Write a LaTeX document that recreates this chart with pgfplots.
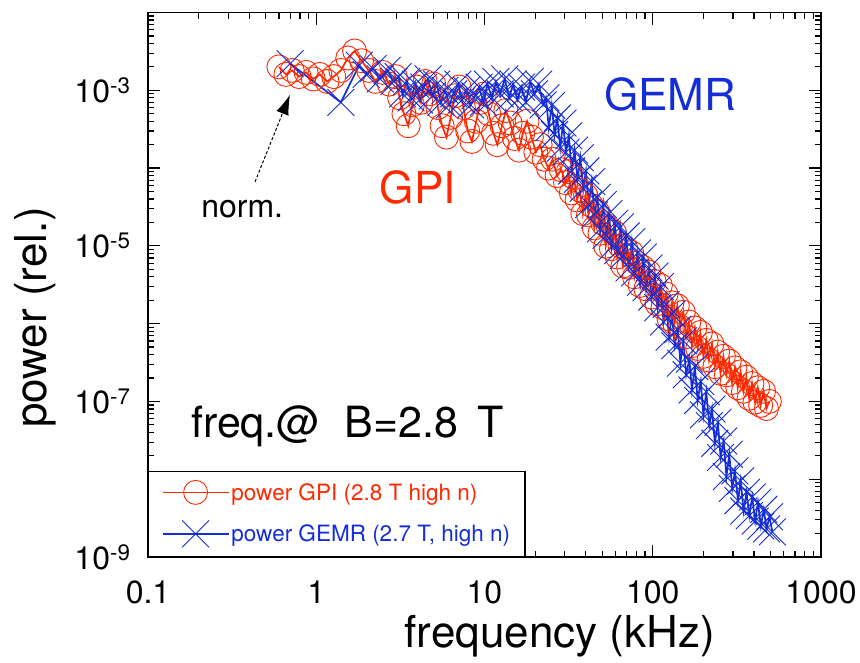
\documentclass[border=0pt]{standalone}
\usepackage{fontspec}
\setmainfont{TeX Gyre Heros}
\usepackage{pgfplots}
\usepackage{pgfplotstable}
\pgfplotsset{compat=1.18}
\usetikzlibrary{arrows.meta}
\definecolor{gpired}{RGB}{255,40,0}
\definecolor{gemrblue}{RGB}{20,45,215}

\pgfplotstableread{
f P
0.60 2.0e-3
0.66 1.6e-3
0.72 1.8e-3
0.79 1.5e-3
0.87 1.7e-3
0.96 1.4e-3
1.05 1.6e-3
1.16 1.3e-3
1.27 1.5e-3
1.40 1.8e-3
1.54 2.6e-3
1.69 3.2e-3
1.86 2.4e-3
2.05 1.8e-3
2.25 1.3e-3
2.48 1.7e-3
2.72 1.2e-3
2.95 1.5e-3
3.13 8.0e-4
3.32 5.0e-4
3.52 3.5e-4
3.73 6.5e-4
3.95 1.1e-3
4.19 7.0e-4
4.44 1.3e-3
4.70 9.0e-4
4.99 1.2e-3
5.28 6.0e-4
5.60 3.5e-4
5.94 2.5e-4
6.30 4.5e-4
6.67 8.5e-4
7.07 1.1e-3
7.50 6.0e-4
7.95 3.0e-4
8.42 2.2e-4
8.93 4.0e-4
9.47 7.0e-4
10.0 9.0e-4
10.6 5.0e-4
11.3 2.8e-4
11.9 2.0e-4
12.7 3.5e-4
13.4 5.5e-4
14.2 3.8e-4
15.1 2.4e-4
16.0 1.7e-4
16.9 2.8e-4
17.9 4.0e-4
19.0 2.5e-4
20.2 1.6e-4
21.4 2.0e-4
22.6 1.3e-4
24.0 1.0e-4
25.4 1.3e-4
27.0 8.0e-5
28.6 9.5e-5
30.3 6.5e-5
31.5 9.0e-5
32.8 4.8e-5
34.1 7.5e-5
35.5 3.9e-5
36.9 5.2e-5
38.4 2.6e-5
39.9 4.5e-5
41.5 2.5e-5
43.2 3.3e-5
44.9 1.7e-5
46.7 2.8e-5
48.6 1.45e-5
50.5 1.95e-5
52.5 9.9e-6
54.6 1.7e-5
56.8 9.2e-6
59.1 1.5e-5
61.5 7.2e-6
63.9 1.0e-5
66.5 5.5e-6
69.1 9.3e-6
71.9 5.3e-6
74.8 8.2e-6
77.8 4.0e-6
80.9 6.0e-6
84.1 3.1e-6
87.5 5.3e-6
91.0 2.8e-6
94.6 4.6e-6
98.4 2.2e-6
102 3.5e-6
106 1.8e-6
111 3.1e-6
115 1.6e-6
120 2.4e-6
125 1.15e-6
130 1.85e-6
135 1.0e-6
140 1.7e-6
146 9.1e-7
152 1.4e-6
158 6.8e-7
164 1.05e-6
171 5.2e-7
178 8.8e-7
185 4.8e-7
192 7.7e-7
200 3.8e-7
208 6.1e-7
216 3.4e-7
225 5.5e-7
234 2.8e-7
243 4.3e-7
253 2.3e-7
263 3.8e-7
274 2.2e-7
285 3.3e-7
296 1.75e-7
308 2.7e-7
320 1.5e-7
333 2.4e-7
346 1.35e-7
360 2.05e-7
374 1.1e-7
389 1.7e-7
405 9.8e-8
421 1.5e-7
438 8.9e-8
456 1.35e-7
474 8.1e-8
493 1.0e-7
}\gpidata

\pgfplotstableread{
f P
0.70 2.2e-3
1.40 7.0e-4
1.80 2.1e-3
1.98 1.6e-3
2.18 1.9e-3
2.40 1.4e-3
2.64 1.8e-3
2.90 1.3e-3
3.07 1.5e-3
3.26 9.0e-4
3.45 1.3e-3
3.66 8.0e-4
3.88 1.2e-3
4.11 7.5e-4
4.36 1.1e-3
4.62 1.4e-3
4.90 8.5e-4
5.19 1.2e-3
5.50 7.0e-4
5.83 1.0e-3
6.18 6.5e-4
6.55 9.0e-4
6.95 1.2e-3
7.36 7.5e-4
7.81 1.0e-3
8.27 6.5e-4
8.77 8.5e-4
9.30 1.1e-3
9.85 7.0e-4
10.4 1.2e-3
11.1 8.0e-4
11.7 1.3e-3
12.4 9.0e-4
13.2 1.4e-3
14.0 8.0e-4
14.8 1.2e-3
15.7 7.5e-4
16.6 1.1e-3
17.6 7.0e-4
18.7 1.3e-3
19.8 9.0e-4
21.0 1.2e-3
22.3 6.5e-4
23.2 8.0e-4
24.1 3.3e-4
25.1 6.4e-4
26.1 2.7e-4
27.1 4.4e-4
28.2 1.8e-4
29.3 3.8e-4
30.5 1.6e-4
31.7 2.6e-4
33.0 9.2e-5
34.3 1.7e-4
35.7 7.2e-5
37.1 1.36e-4
38.6 5.5e-5
40.1 9.2e-5
41.7 3.4e-5
43.4 6.7e-5
45.1 2.5e-5
46.9 4.2e-5
48.8 1.65e-5
50.8 3.4e-5
52.8 1.36e-5
54.9 2.6e-5
57.1 9.7e-6
59.4 1.95e-5
61.8 8.7e-6
64.2 1.75e-5
66.8 7.5e-6
69.5 1.34e-5
72.2 5.2e-6
75.1 1.13e-5
78.1 4.5e-6
81.2 8.1e-6
84.5 3.4e-6
87.9 7.2e-6
91.4 2.9e-6
95.0 5.2e-6
98.8 2.2e-6
103 4.1e-6
107 1.6e-6
111 3.0e-6
116 1.05e-6
120 1.77e-6
125 6.7e-7
130 1.33e-6
135 5.2e-7
141 8.4e-7
146 3.1e-7
152 6.0e-7
158 2.2e-7
165 3.5e-7
171 1.4e-7
178 2.8e-7
185 1.03e-7
193 1.8e-7
200 6.7e-8
208 1.33e-7
217 4.9e-8
225 8.0e-8
234 2.9e-8
244 5.4e-8
253 1.9e-8
264 3.1e-8
274 1.08e-8
285 2.1e-8
297 7.6e-9
308 1.28e-8
321 5.3e-9
333 9.5e-9
347 3.9e-9
361 6.8e-9
375 3.4e-9
390 5.9e-9
406 2.9e-9
422 5.1e-9
439 2.5e-9
457 4.1e-9
475 2.3e-9
494 3.3e-9
514 2.1e-9
}\gemrdata

\begin{document}
\begin{tikzpicture}
\begin{axis}[
  scale only axis, width=673pt, height=544.5pt,
  xmode=log, ymode=log,
  xmin=0.1, xmax=1000, ymin=1e-9, ymax=1e-2,
  xtick={0.1,1,10,100,1000}, xticklabels={0.1,1,10,100,1000},
  ytick={1e-9,1e-8,1e-7,1e-6,1e-5,1e-4,1e-3,1e-2},
  yticklabels={10\textsuperscript{-9},,10\textsuperscript{-7},,10\textsuperscript{-5},,10\textsuperscript{-3},},
  tick align=inside, major tick length=12pt, minor tick length=6pt,
  every tick/.style={black, line width=1.2pt},
  axis line style={line width=1.6pt},
  ticklabel style={font=\fontsize{32}{36}\selectfont},
  xticklabel style={yshift=-20pt},
  yticklabel style={xshift=-14pt},
  xlabel={frequency (kHz)}, ylabel={power (rel.)},
  label style={font=\fontsize{44}{50}\selectfont},
  x label style={at={(axis description cs:0.612,-0.145)},anchor=center},
  y label style={at={(axis description cs:-0.168,0.44)},anchor=center},
  legend style={at={(axis description cs:0,0)}, anchor=south west, draw=black, line width=1.5pt,
    font=\fontsize{22.5}{26}\selectfont, inner xsep=13pt, inner ysep=9pt, row sep=16pt},
  legend cell align=left,
  legend image code/.code={\draw[mark repeat=2,mark phase=2,#1] plot coordinates {(0pt,0pt) (33pt,0pt) (66pt,0pt)};},
]
\addplot[gpired, line width=1.7pt, mark=o, mark size=12pt, mark options={line width=0.9pt, solid}] table[x=f,y=P]{\gpidata};
\addlegendentry{\textcolor{gpired}{power GPI (2.8 T high n)}}
\addplot[gemrblue, line width=1.7pt, mark=x, mark size=19pt, mark options={line width=0.9pt, solid}] table[x=f,y=P]{\gemrdata};
\addlegendentry{\textcolor{gemrblue}{power GEMR (2.7 T, high n)}}

\node[gpired, font=\fontsize{44}{50}\selectfont] at (rel axis cs:0.401,0.678) {GPI};
\node[gemrblue, font=\fontsize{44}{50}\selectfont] at (rel axis cs:0.776,0.849) {GEMR};
\node[black, font=\fontsize{32}{36}\selectfont] at (rel axis cs:0.14,0.639) {norm.};
\node[black, anchor=base west, font=\fontsize{43}{48}\selectfont] at (rel axis cs:0.059,0.220) {freq.@\ \ B=2.8\hspace{0.45em}T};
\draw[black, line width=1pt, densely dashed, -{Latex[length=20pt,width=13pt]}] (rel axis cs:0.159,0.689) -- (rel axis cs:0.211,0.849);
\end{axis}
\path (current axis.south west) +(-148pt,-106pt) (current axis.north east) +(39pt,12.5pt);
\end{tikzpicture}
\end{document}
